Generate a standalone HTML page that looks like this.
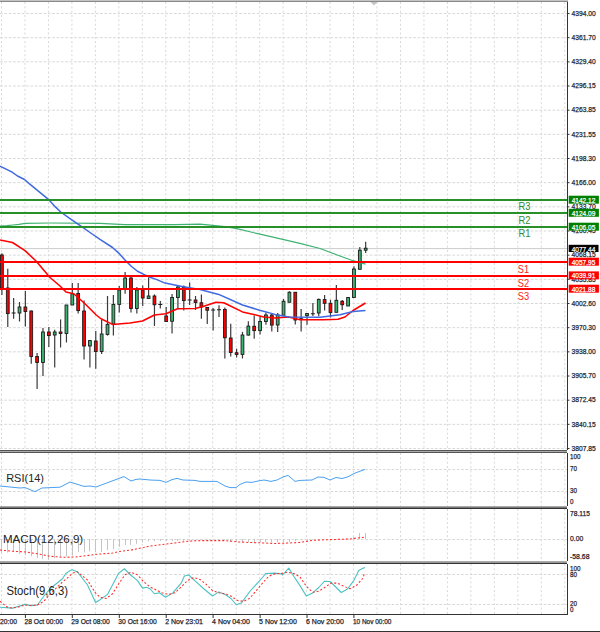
<!DOCTYPE html>
<html><head><meta charset="utf-8"><style>
html,body{margin:0;padding:0;background:#fff;width:600px;height:632px;overflow:hidden}
svg{display:block}
</style></head><body>
<svg width="600" height="632" viewBox="0 0 600 632">
<rect x="0" y="0" width="600" height="632" fill="#fff"/>
<line x1="0" y1="13.5" x2="567" y2="13.5" stroke="#d8d8d8" stroke-width="1" stroke-dasharray="2.7 1.65"/>
<line x1="0" y1="37.67" x2="567" y2="37.67" stroke="#d8d8d8" stroke-width="1" stroke-dasharray="2.7 1.65"/>
<line x1="0" y1="61.83" x2="567" y2="61.83" stroke="#d8d8d8" stroke-width="1" stroke-dasharray="2.7 1.65"/>
<line x1="0" y1="86.0" x2="567" y2="86.0" stroke="#d8d8d8" stroke-width="1" stroke-dasharray="2.7 1.65"/>
<line x1="0" y1="110.17" x2="567" y2="110.17" stroke="#d8d8d8" stroke-width="1" stroke-dasharray="2.7 1.65"/>
<line x1="0" y1="134.34" x2="567" y2="134.34" stroke="#d8d8d8" stroke-width="1" stroke-dasharray="2.7 1.65"/>
<line x1="0" y1="158.5" x2="567" y2="158.5" stroke="#d8d8d8" stroke-width="1" stroke-dasharray="2.7 1.65"/>
<line x1="0" y1="182.67" x2="567" y2="182.67" stroke="#d8d8d8" stroke-width="1" stroke-dasharray="2.7 1.65"/>
<line x1="0" y1="206.84" x2="567" y2="206.84" stroke="#d8d8d8" stroke-width="1" stroke-dasharray="2.7 1.65"/>
<line x1="0" y1="231.0" x2="567" y2="231.0" stroke="#d8d8d8" stroke-width="1" stroke-dasharray="2.7 1.65"/>
<line x1="0" y1="255.17" x2="567" y2="255.17" stroke="#d8d8d8" stroke-width="1" stroke-dasharray="2.7 1.65"/>
<line x1="0" y1="279.34" x2="567" y2="279.34" stroke="#d8d8d8" stroke-width="1" stroke-dasharray="2.7 1.65"/>
<line x1="0" y1="303.5" x2="567" y2="303.5" stroke="#d8d8d8" stroke-width="1" stroke-dasharray="2.7 1.65"/>
<line x1="0" y1="327.67" x2="567" y2="327.67" stroke="#d8d8d8" stroke-width="1" stroke-dasharray="2.7 1.65"/>
<line x1="0" y1="351.84" x2="567" y2="351.84" stroke="#d8d8d8" stroke-width="1" stroke-dasharray="2.7 1.65"/>
<line x1="0" y1="376.0" x2="567" y2="376.0" stroke="#d8d8d8" stroke-width="1" stroke-dasharray="2.7 1.65"/>
<line x1="0" y1="400.17" x2="567" y2="400.17" stroke="#d8d8d8" stroke-width="1" stroke-dasharray="2.7 1.65"/>
<line x1="0" y1="424.34" x2="567" y2="424.34" stroke="#d8d8d8" stroke-width="1" stroke-dasharray="2.7 1.65"/>
<line x1="0" y1="448.51" x2="567" y2="448.51" stroke="#d8d8d8" stroke-width="1" stroke-dasharray="2.7 1.65"/>
<line x1="1.5" y1="2" x2="1.5" y2="450" stroke="#d8d8d8" stroke-width="1" stroke-dasharray="2 2.35"/>
<line x1="1.5" y1="453" x2="1.5" y2="506" stroke="#d8d8d8" stroke-width="1" stroke-dasharray="2 2.35"/>
<line x1="1.5" y1="509" x2="1.5" y2="561" stroke="#d8d8d8" stroke-width="1" stroke-dasharray="2 2.35"/>
<line x1="1.5" y1="564" x2="1.5" y2="614" stroke="#d8d8d8" stroke-width="1" stroke-dasharray="2 2.35"/>
<line x1="24.97" y1="2" x2="24.97" y2="450" stroke="#d8d8d8" stroke-width="1" stroke-dasharray="2 2.35"/>
<line x1="24.97" y1="453" x2="24.97" y2="506" stroke="#d8d8d8" stroke-width="1" stroke-dasharray="2 2.35"/>
<line x1="24.97" y1="509" x2="24.97" y2="561" stroke="#d8d8d8" stroke-width="1" stroke-dasharray="2 2.35"/>
<line x1="24.97" y1="564" x2="24.97" y2="614" stroke="#d8d8d8" stroke-width="1" stroke-dasharray="2 2.35"/>
<line x1="48.44" y1="2" x2="48.44" y2="450" stroke="#d8d8d8" stroke-width="1" stroke-dasharray="2 2.35"/>
<line x1="48.44" y1="453" x2="48.44" y2="506" stroke="#d8d8d8" stroke-width="1" stroke-dasharray="2 2.35"/>
<line x1="48.44" y1="509" x2="48.44" y2="561" stroke="#d8d8d8" stroke-width="1" stroke-dasharray="2 2.35"/>
<line x1="48.44" y1="564" x2="48.44" y2="614" stroke="#d8d8d8" stroke-width="1" stroke-dasharray="2 2.35"/>
<line x1="71.91" y1="2" x2="71.91" y2="450" stroke="#d8d8d8" stroke-width="1" stroke-dasharray="2 2.35"/>
<line x1="71.91" y1="453" x2="71.91" y2="506" stroke="#d8d8d8" stroke-width="1" stroke-dasharray="2 2.35"/>
<line x1="71.91" y1="509" x2="71.91" y2="561" stroke="#d8d8d8" stroke-width="1" stroke-dasharray="2 2.35"/>
<line x1="71.91" y1="564" x2="71.91" y2="614" stroke="#d8d8d8" stroke-width="1" stroke-dasharray="2 2.35"/>
<line x1="95.38" y1="2" x2="95.38" y2="450" stroke="#d8d8d8" stroke-width="1" stroke-dasharray="2 2.35"/>
<line x1="95.38" y1="453" x2="95.38" y2="506" stroke="#d8d8d8" stroke-width="1" stroke-dasharray="2 2.35"/>
<line x1="95.38" y1="509" x2="95.38" y2="561" stroke="#d8d8d8" stroke-width="1" stroke-dasharray="2 2.35"/>
<line x1="95.38" y1="564" x2="95.38" y2="614" stroke="#d8d8d8" stroke-width="1" stroke-dasharray="2 2.35"/>
<line x1="118.85" y1="2" x2="118.85" y2="450" stroke="#d8d8d8" stroke-width="1" stroke-dasharray="2 2.35"/>
<line x1="118.85" y1="453" x2="118.85" y2="506" stroke="#d8d8d8" stroke-width="1" stroke-dasharray="2 2.35"/>
<line x1="118.85" y1="509" x2="118.85" y2="561" stroke="#d8d8d8" stroke-width="1" stroke-dasharray="2 2.35"/>
<line x1="118.85" y1="564" x2="118.85" y2="614" stroke="#d8d8d8" stroke-width="1" stroke-dasharray="2 2.35"/>
<line x1="142.32" y1="2" x2="142.32" y2="450" stroke="#d8d8d8" stroke-width="1" stroke-dasharray="2 2.35"/>
<line x1="142.32" y1="453" x2="142.32" y2="506" stroke="#d8d8d8" stroke-width="1" stroke-dasharray="2 2.35"/>
<line x1="142.32" y1="509" x2="142.32" y2="561" stroke="#d8d8d8" stroke-width="1" stroke-dasharray="2 2.35"/>
<line x1="142.32" y1="564" x2="142.32" y2="614" stroke="#d8d8d8" stroke-width="1" stroke-dasharray="2 2.35"/>
<line x1="165.79" y1="2" x2="165.79" y2="450" stroke="#d8d8d8" stroke-width="1" stroke-dasharray="2 2.35"/>
<line x1="165.79" y1="453" x2="165.79" y2="506" stroke="#d8d8d8" stroke-width="1" stroke-dasharray="2 2.35"/>
<line x1="165.79" y1="509" x2="165.79" y2="561" stroke="#d8d8d8" stroke-width="1" stroke-dasharray="2 2.35"/>
<line x1="165.79" y1="564" x2="165.79" y2="614" stroke="#d8d8d8" stroke-width="1" stroke-dasharray="2 2.35"/>
<line x1="189.26" y1="2" x2="189.26" y2="450" stroke="#d8d8d8" stroke-width="1" stroke-dasharray="2 2.35"/>
<line x1="189.26" y1="453" x2="189.26" y2="506" stroke="#d8d8d8" stroke-width="1" stroke-dasharray="2 2.35"/>
<line x1="189.26" y1="509" x2="189.26" y2="561" stroke="#d8d8d8" stroke-width="1" stroke-dasharray="2 2.35"/>
<line x1="189.26" y1="564" x2="189.26" y2="614" stroke="#d8d8d8" stroke-width="1" stroke-dasharray="2 2.35"/>
<line x1="212.73" y1="2" x2="212.73" y2="450" stroke="#d8d8d8" stroke-width="1" stroke-dasharray="2 2.35"/>
<line x1="212.73" y1="453" x2="212.73" y2="506" stroke="#d8d8d8" stroke-width="1" stroke-dasharray="2 2.35"/>
<line x1="212.73" y1="509" x2="212.73" y2="561" stroke="#d8d8d8" stroke-width="1" stroke-dasharray="2 2.35"/>
<line x1="212.73" y1="564" x2="212.73" y2="614" stroke="#d8d8d8" stroke-width="1" stroke-dasharray="2 2.35"/>
<line x1="236.2" y1="2" x2="236.2" y2="450" stroke="#d8d8d8" stroke-width="1" stroke-dasharray="2 2.35"/>
<line x1="236.2" y1="453" x2="236.2" y2="506" stroke="#d8d8d8" stroke-width="1" stroke-dasharray="2 2.35"/>
<line x1="236.2" y1="509" x2="236.2" y2="561" stroke="#d8d8d8" stroke-width="1" stroke-dasharray="2 2.35"/>
<line x1="236.2" y1="564" x2="236.2" y2="614" stroke="#d8d8d8" stroke-width="1" stroke-dasharray="2 2.35"/>
<line x1="259.66999999999996" y1="2" x2="259.66999999999996" y2="450" stroke="#d8d8d8" stroke-width="1" stroke-dasharray="2 2.35"/>
<line x1="259.66999999999996" y1="453" x2="259.66999999999996" y2="506" stroke="#d8d8d8" stroke-width="1" stroke-dasharray="2 2.35"/>
<line x1="259.66999999999996" y1="509" x2="259.66999999999996" y2="561" stroke="#d8d8d8" stroke-width="1" stroke-dasharray="2 2.35"/>
<line x1="259.66999999999996" y1="564" x2="259.66999999999996" y2="614" stroke="#d8d8d8" stroke-width="1" stroke-dasharray="2 2.35"/>
<line x1="283.14" y1="2" x2="283.14" y2="450" stroke="#d8d8d8" stroke-width="1" stroke-dasharray="2 2.35"/>
<line x1="283.14" y1="453" x2="283.14" y2="506" stroke="#d8d8d8" stroke-width="1" stroke-dasharray="2 2.35"/>
<line x1="283.14" y1="509" x2="283.14" y2="561" stroke="#d8d8d8" stroke-width="1" stroke-dasharray="2 2.35"/>
<line x1="283.14" y1="564" x2="283.14" y2="614" stroke="#d8d8d8" stroke-width="1" stroke-dasharray="2 2.35"/>
<line x1="306.61" y1="2" x2="306.61" y2="450" stroke="#d8d8d8" stroke-width="1" stroke-dasharray="2 2.35"/>
<line x1="306.61" y1="453" x2="306.61" y2="506" stroke="#d8d8d8" stroke-width="1" stroke-dasharray="2 2.35"/>
<line x1="306.61" y1="509" x2="306.61" y2="561" stroke="#d8d8d8" stroke-width="1" stroke-dasharray="2 2.35"/>
<line x1="306.61" y1="564" x2="306.61" y2="614" stroke="#d8d8d8" stroke-width="1" stroke-dasharray="2 2.35"/>
<line x1="330.08" y1="2" x2="330.08" y2="450" stroke="#d8d8d8" stroke-width="1" stroke-dasharray="2 2.35"/>
<line x1="330.08" y1="453" x2="330.08" y2="506" stroke="#d8d8d8" stroke-width="1" stroke-dasharray="2 2.35"/>
<line x1="330.08" y1="509" x2="330.08" y2="561" stroke="#d8d8d8" stroke-width="1" stroke-dasharray="2 2.35"/>
<line x1="330.08" y1="564" x2="330.08" y2="614" stroke="#d8d8d8" stroke-width="1" stroke-dasharray="2 2.35"/>
<line x1="353.54999999999995" y1="2" x2="353.54999999999995" y2="450" stroke="#d8d8d8" stroke-width="1" stroke-dasharray="2 2.35"/>
<line x1="353.54999999999995" y1="453" x2="353.54999999999995" y2="506" stroke="#d8d8d8" stroke-width="1" stroke-dasharray="2 2.35"/>
<line x1="353.54999999999995" y1="509" x2="353.54999999999995" y2="561" stroke="#d8d8d8" stroke-width="1" stroke-dasharray="2 2.35"/>
<line x1="353.54999999999995" y1="564" x2="353.54999999999995" y2="614" stroke="#d8d8d8" stroke-width="1" stroke-dasharray="2 2.35"/>
<line x1="377.02" y1="2" x2="377.02" y2="450" stroke="#d8d8d8" stroke-width="1" stroke-dasharray="2 2.35"/>
<line x1="377.02" y1="453" x2="377.02" y2="506" stroke="#d8d8d8" stroke-width="1" stroke-dasharray="2 2.35"/>
<line x1="377.02" y1="509" x2="377.02" y2="561" stroke="#d8d8d8" stroke-width="1" stroke-dasharray="2 2.35"/>
<line x1="377.02" y1="564" x2="377.02" y2="614" stroke="#d8d8d8" stroke-width="1" stroke-dasharray="2 2.35"/>
<line x1="400.49" y1="2" x2="400.49" y2="450" stroke="#d8d8d8" stroke-width="1" stroke-dasharray="2 2.35"/>
<line x1="400.49" y1="453" x2="400.49" y2="506" stroke="#d8d8d8" stroke-width="1" stroke-dasharray="2 2.35"/>
<line x1="400.49" y1="509" x2="400.49" y2="561" stroke="#d8d8d8" stroke-width="1" stroke-dasharray="2 2.35"/>
<line x1="400.49" y1="564" x2="400.49" y2="614" stroke="#d8d8d8" stroke-width="1" stroke-dasharray="2 2.35"/>
<line x1="423.96" y1="2" x2="423.96" y2="450" stroke="#d8d8d8" stroke-width="1" stroke-dasharray="2 2.35"/>
<line x1="423.96" y1="453" x2="423.96" y2="506" stroke="#d8d8d8" stroke-width="1" stroke-dasharray="2 2.35"/>
<line x1="423.96" y1="509" x2="423.96" y2="561" stroke="#d8d8d8" stroke-width="1" stroke-dasharray="2 2.35"/>
<line x1="423.96" y1="564" x2="423.96" y2="614" stroke="#d8d8d8" stroke-width="1" stroke-dasharray="2 2.35"/>
<line x1="447.42999999999995" y1="2" x2="447.42999999999995" y2="450" stroke="#d8d8d8" stroke-width="1" stroke-dasharray="2 2.35"/>
<line x1="447.42999999999995" y1="453" x2="447.42999999999995" y2="506" stroke="#d8d8d8" stroke-width="1" stroke-dasharray="2 2.35"/>
<line x1="447.42999999999995" y1="509" x2="447.42999999999995" y2="561" stroke="#d8d8d8" stroke-width="1" stroke-dasharray="2 2.35"/>
<line x1="447.42999999999995" y1="564" x2="447.42999999999995" y2="614" stroke="#d8d8d8" stroke-width="1" stroke-dasharray="2 2.35"/>
<line x1="470.9" y1="2" x2="470.9" y2="450" stroke="#d8d8d8" stroke-width="1" stroke-dasharray="2 2.35"/>
<line x1="470.9" y1="453" x2="470.9" y2="506" stroke="#d8d8d8" stroke-width="1" stroke-dasharray="2 2.35"/>
<line x1="470.9" y1="509" x2="470.9" y2="561" stroke="#d8d8d8" stroke-width="1" stroke-dasharray="2 2.35"/>
<line x1="470.9" y1="564" x2="470.9" y2="614" stroke="#d8d8d8" stroke-width="1" stroke-dasharray="2 2.35"/>
<line x1="494.37" y1="2" x2="494.37" y2="450" stroke="#d8d8d8" stroke-width="1" stroke-dasharray="2 2.35"/>
<line x1="494.37" y1="453" x2="494.37" y2="506" stroke="#d8d8d8" stroke-width="1" stroke-dasharray="2 2.35"/>
<line x1="494.37" y1="509" x2="494.37" y2="561" stroke="#d8d8d8" stroke-width="1" stroke-dasharray="2 2.35"/>
<line x1="494.37" y1="564" x2="494.37" y2="614" stroke="#d8d8d8" stroke-width="1" stroke-dasharray="2 2.35"/>
<line x1="517.8399999999999" y1="2" x2="517.8399999999999" y2="450" stroke="#d8d8d8" stroke-width="1" stroke-dasharray="2 2.35"/>
<line x1="517.8399999999999" y1="453" x2="517.8399999999999" y2="506" stroke="#d8d8d8" stroke-width="1" stroke-dasharray="2 2.35"/>
<line x1="517.8399999999999" y1="509" x2="517.8399999999999" y2="561" stroke="#d8d8d8" stroke-width="1" stroke-dasharray="2 2.35"/>
<line x1="517.8399999999999" y1="564" x2="517.8399999999999" y2="614" stroke="#d8d8d8" stroke-width="1" stroke-dasharray="2 2.35"/>
<line x1="541.31" y1="2" x2="541.31" y2="450" stroke="#d8d8d8" stroke-width="1" stroke-dasharray="2 2.35"/>
<line x1="541.31" y1="453" x2="541.31" y2="506" stroke="#d8d8d8" stroke-width="1" stroke-dasharray="2 2.35"/>
<line x1="541.31" y1="509" x2="541.31" y2="561" stroke="#d8d8d8" stroke-width="1" stroke-dasharray="2 2.35"/>
<line x1="541.31" y1="564" x2="541.31" y2="614" stroke="#d8d8d8" stroke-width="1" stroke-dasharray="2 2.35"/>
<line x1="564.78" y1="2" x2="564.78" y2="450" stroke="#d8d8d8" stroke-width="1" stroke-dasharray="2 2.35"/>
<line x1="564.78" y1="453" x2="564.78" y2="506" stroke="#d8d8d8" stroke-width="1" stroke-dasharray="2 2.35"/>
<line x1="564.78" y1="509" x2="564.78" y2="561" stroke="#d8d8d8" stroke-width="1" stroke-dasharray="2 2.35"/>
<line x1="564.78" y1="564" x2="564.78" y2="614" stroke="#d8d8d8" stroke-width="1" stroke-dasharray="2 2.35"/>
<line x1="0" y1="469.5" x2="567" y2="469.5" stroke="#d8d8d8" stroke-width="1" stroke-dasharray="2.7 1.65"/>
<line x1="0" y1="491.5" x2="567" y2="491.5" stroke="#d8d8d8" stroke-width="1" stroke-dasharray="2.7 1.65"/>
<line x1="0" y1="539.5" x2="567" y2="539.5" stroke="#d8d8d8" stroke-width="1" stroke-dasharray="2.7 1.65"/>
<line x1="0" y1="574.5" x2="567" y2="574.5" stroke="#d8d8d8" stroke-width="1" stroke-dasharray="2.7 1.65"/>
<line x1="0" y1="604.5" x2="567" y2="604.5" stroke="#d8d8d8" stroke-width="1" stroke-dasharray="2.7 1.65"/>
<line x1="0" y1="248.6" x2="567" y2="248.6" stroke="#cccccc" stroke-width="1"/>
<line x1="1.90" y1="253.3" x2="1.90" y2="295" stroke="#3a3a3a" stroke-width="1.2"/>
<rect x="0.50" y="255" width="2.8" height="33.30" fill="#ff0000" stroke="#1a1a1a" stroke-width="0.9"/>
<line x1="7.77" y1="268.75" x2="7.77" y2="327" stroke="#3a3a3a" stroke-width="1.2"/>
<rect x="6.37" y="288" width="2.8" height="25.60" fill="#ff0000" stroke="#1a1a1a" stroke-width="0.9"/>
<line x1="13.63" y1="298" x2="13.63" y2="318.75" stroke="#3a3a3a" stroke-width="1.2"/>
<line x1="11.63" y1="313" x2="15.63" y2="313" stroke="#1a1a1a" stroke-width="1"/>
<line x1="19.50" y1="302" x2="19.50" y2="321.5" stroke="#3a3a3a" stroke-width="1.2"/>
<rect x="18.10" y="307" width="2.8" height="6.00" fill="#3cb371" stroke="#1a1a1a" stroke-width="0.9"/>
<line x1="25.37" y1="291" x2="25.37" y2="326.5" stroke="#3a3a3a" stroke-width="1.2"/>
<rect x="23.97" y="307" width="2.8" height="4.50" fill="#ff0000" stroke="#1a1a1a" stroke-width="0.9"/>
<line x1="31.24" y1="310.6" x2="31.24" y2="363.75" stroke="#3a3a3a" stroke-width="1.2"/>
<rect x="29.84" y="311" width="2.8" height="45.50" fill="#ff0000" stroke="#1a1a1a" stroke-width="0.9"/>
<line x1="37.10" y1="353" x2="37.10" y2="389" stroke="#3a3a3a" stroke-width="1.2"/>
<rect x="35.70" y="356.5" width="2.8" height="6.00" fill="#ff0000" stroke="#1a1a1a" stroke-width="0.9"/>
<line x1="42.97" y1="328" x2="42.97" y2="376" stroke="#3a3a3a" stroke-width="1.2"/>
<rect x="41.57" y="332" width="2.8" height="30.50" fill="#3cb371" stroke="#1a1a1a" stroke-width="0.9"/>
<line x1="48.84" y1="327" x2="48.84" y2="347" stroke="#3a3a3a" stroke-width="1.2"/>
<rect x="47.44" y="332" width="2.8" height="3.60" fill="#ff0000" stroke="#1a1a1a" stroke-width="0.9"/>
<line x1="54.71" y1="329.75" x2="54.71" y2="367.5" stroke="#3a3a3a" stroke-width="1.2"/>
<rect x="53.31" y="332" width="2.8" height="3.00" fill="#3cb371" stroke="#1a1a1a" stroke-width="0.9"/>
<line x1="60.57" y1="319.4" x2="60.57" y2="347.5" stroke="#3a3a3a" stroke-width="1.2"/>
<rect x="59.17" y="332" width="2.8" height="1.50" fill="#ff0000" stroke="#1a1a1a" stroke-width="0.9"/>
<line x1="66.44" y1="305" x2="66.44" y2="342.5" stroke="#3a3a3a" stroke-width="1.2"/>
<rect x="65.04" y="305" width="2.8" height="28.50" fill="#3cb371" stroke="#1a1a1a" stroke-width="0.9"/>
<line x1="72.31" y1="283" x2="72.31" y2="305" stroke="#3a3a3a" stroke-width="1.2"/>
<rect x="70.91" y="293.75" width="2.8" height="11.25" fill="#3cb371" stroke="#1a1a1a" stroke-width="0.9"/>
<line x1="78.18" y1="283" x2="78.18" y2="313.5" stroke="#3a3a3a" stroke-width="1.2"/>
<rect x="76.78" y="293.5" width="2.8" height="17.10" fill="#ff0000" stroke="#1a1a1a" stroke-width="0.9"/>
<line x1="84.05" y1="300.6" x2="84.05" y2="359.4" stroke="#3a3a3a" stroke-width="1.2"/>
<rect x="82.64" y="311" width="2.8" height="35.00" fill="#ff0000" stroke="#1a1a1a" stroke-width="0.9"/>
<line x1="89.91" y1="340" x2="89.91" y2="367.5" stroke="#3a3a3a" stroke-width="1.2"/>
<rect x="88.51" y="340.6" width="2.8" height="5.40" fill="#3cb371" stroke="#1a1a1a" stroke-width="0.9"/>
<line x1="95.78" y1="331" x2="95.78" y2="368.75" stroke="#3a3a3a" stroke-width="1.2"/>
<rect x="94.38" y="341" width="2.8" height="10.50" fill="#ff0000" stroke="#1a1a1a" stroke-width="0.9"/>
<line x1="101.65" y1="320" x2="101.65" y2="354" stroke="#3a3a3a" stroke-width="1.2"/>
<rect x="100.25" y="334" width="2.8" height="17.50" fill="#3cb371" stroke="#1a1a1a" stroke-width="0.9"/>
<line x1="107.52" y1="296" x2="107.52" y2="335.6" stroke="#3a3a3a" stroke-width="1.2"/>
<rect x="106.11" y="324.4" width="2.8" height="10.00" fill="#3cb371" stroke="#1a1a1a" stroke-width="0.9"/>
<line x1="113.38" y1="295" x2="113.38" y2="335.6" stroke="#3a3a3a" stroke-width="1.2"/>
<rect x="111.98" y="304.4" width="2.8" height="19.60" fill="#3cb371" stroke="#1a1a1a" stroke-width="0.9"/>
<line x1="119.25" y1="286" x2="119.25" y2="312.5" stroke="#3a3a3a" stroke-width="1.2"/>
<rect x="117.85" y="290" width="2.8" height="14.40" fill="#3cb371" stroke="#1a1a1a" stroke-width="0.9"/>
<line x1="125.12" y1="272" x2="125.12" y2="293.75" stroke="#3a3a3a" stroke-width="1.2"/>
<rect x="123.72" y="278" width="2.8" height="10.50" fill="#3cb371" stroke="#1a1a1a" stroke-width="0.9"/>
<line x1="130.98" y1="277" x2="130.98" y2="312.5" stroke="#3a3a3a" stroke-width="1.2"/>
<rect x="129.58" y="278" width="2.8" height="30.50" fill="#ff0000" stroke="#1a1a1a" stroke-width="0.9"/>
<line x1="136.85" y1="287" x2="136.85" y2="313.6" stroke="#3a3a3a" stroke-width="1.2"/>
<rect x="135.45" y="290" width="2.8" height="18.50" fill="#3cb371" stroke="#1a1a1a" stroke-width="0.9"/>
<line x1="142.72" y1="285.6" x2="142.72" y2="306" stroke="#3a3a3a" stroke-width="1.2"/>
<rect x="141.32" y="290" width="2.8" height="8.00" fill="#ff0000" stroke="#1a1a1a" stroke-width="0.9"/>
<line x1="148.59" y1="277.5" x2="148.59" y2="298.75" stroke="#3a3a3a" stroke-width="1.2"/>
<rect x="147.19" y="296" width="2.8" height="2.50" fill="#3cb371" stroke="#1a1a1a" stroke-width="0.9"/>
<line x1="154.46" y1="294.4" x2="154.46" y2="326" stroke="#3a3a3a" stroke-width="1.2"/>
<rect x="153.06" y="296" width="2.8" height="8.75" fill="#ff0000" stroke="#1a1a1a" stroke-width="0.9"/>
<line x1="160.32" y1="301" x2="160.32" y2="308.5" stroke="#3a3a3a" stroke-width="1.2"/>
<line x1="158.32" y1="304.5" x2="162.32" y2="304.5" stroke="#1a1a1a" stroke-width="1"/>
<line x1="166.19" y1="307" x2="166.19" y2="322" stroke="#3a3a3a" stroke-width="1.2"/>
<rect x="164.79" y="316" width="2.8" height="5.50" fill="#ff0000" stroke="#1a1a1a" stroke-width="0.9"/>
<line x1="172.06" y1="294" x2="172.06" y2="333.5" stroke="#3a3a3a" stroke-width="1.2"/>
<rect x="170.66" y="297.5" width="2.8" height="23.75" fill="#3cb371" stroke="#1a1a1a" stroke-width="0.9"/>
<line x1="177.92" y1="286" x2="177.92" y2="308" stroke="#3a3a3a" stroke-width="1.2"/>
<rect x="176.52" y="287" width="2.8" height="10.50" fill="#3cb371" stroke="#1a1a1a" stroke-width="0.9"/>
<line x1="183.79" y1="285.6" x2="183.79" y2="310.6" stroke="#3a3a3a" stroke-width="1.2"/>
<rect x="182.39" y="287" width="2.8" height="13.60" fill="#ff0000" stroke="#1a1a1a" stroke-width="0.9"/>
<line x1="189.66" y1="282.5" x2="189.66" y2="305" stroke="#3a3a3a" stroke-width="1.2"/>
<line x1="187.66" y1="300" x2="191.66" y2="300" stroke="#1a1a1a" stroke-width="1"/>
<line x1="195.53" y1="296" x2="195.53" y2="310" stroke="#3a3a3a" stroke-width="1.2"/>
<rect x="194.13" y="300" width="2.8" height="2.50" fill="#ff0000" stroke="#1a1a1a" stroke-width="0.9"/>
<line x1="201.40" y1="294.4" x2="201.40" y2="318.75" stroke="#3a3a3a" stroke-width="1.2"/>
<rect x="200.00" y="302.75" width="2.8" height="4.25" fill="#ff0000" stroke="#1a1a1a" stroke-width="0.9"/>
<line x1="207.26" y1="307" x2="207.26" y2="324" stroke="#3a3a3a" stroke-width="1.2"/>
<rect x="205.86" y="307.5" width="2.8" height="2.75" fill="#ff0000" stroke="#1a1a1a" stroke-width="0.9"/>
<line x1="213.13" y1="308" x2="213.13" y2="330.6" stroke="#3a3a3a" stroke-width="1.2"/>
<line x1="211.13" y1="310" x2="215.13" y2="310" stroke="#1a1a1a" stroke-width="1"/>
<line x1="219.00" y1="305.25" x2="219.00" y2="316.9" stroke="#3a3a3a" stroke-width="1.2"/>
<line x1="217.00" y1="309.75" x2="221.00" y2="309.75" stroke="#1a1a1a" stroke-width="1"/>
<line x1="224.86" y1="307.5" x2="224.86" y2="358.5" stroke="#3a3a3a" stroke-width="1.2"/>
<rect x="223.46" y="309.4" width="2.8" height="28.35" fill="#ff0000" stroke="#1a1a1a" stroke-width="0.9"/>
<line x1="230.73" y1="323.75" x2="230.73" y2="356.5" stroke="#3a3a3a" stroke-width="1.2"/>
<rect x="229.33" y="338" width="2.8" height="14.50" fill="#ff0000" stroke="#1a1a1a" stroke-width="0.9"/>
<line x1="236.60" y1="348.75" x2="236.60" y2="357.5" stroke="#3a3a3a" stroke-width="1.2"/>
<rect x="235.20" y="352.75" width="2.8" height="1.65" fill="#ff0000" stroke="#1a1a1a" stroke-width="0.9"/>
<line x1="242.47" y1="331.9" x2="242.47" y2="358.5" stroke="#3a3a3a" stroke-width="1.2"/>
<rect x="241.07" y="335" width="2.8" height="19.40" fill="#3cb371" stroke="#1a1a1a" stroke-width="0.9"/>
<line x1="248.34" y1="321.25" x2="248.34" y2="335.6" stroke="#3a3a3a" stroke-width="1.2"/>
<rect x="246.94" y="326.1" width="2.8" height="9.00" fill="#3cb371" stroke="#1a1a1a" stroke-width="0.9"/>
<line x1="254.20" y1="315.6" x2="254.20" y2="338.75" stroke="#3a3a3a" stroke-width="1.2"/>
<rect x="252.80" y="326.25" width="2.8" height="4.35" fill="#ff0000" stroke="#1a1a1a" stroke-width="0.9"/>
<line x1="260.07" y1="316.25" x2="260.07" y2="334.4" stroke="#3a3a3a" stroke-width="1.2"/>
<rect x="258.67" y="321.5" width="2.8" height="9.10" fill="#3cb371" stroke="#1a1a1a" stroke-width="0.9"/>
<line x1="265.94" y1="312.5" x2="265.94" y2="324.75" stroke="#3a3a3a" stroke-width="1.2"/>
<rect x="264.54" y="315" width="2.8" height="6.50" fill="#3cb371" stroke="#1a1a1a" stroke-width="0.9"/>
<line x1="271.80" y1="313.75" x2="271.80" y2="331.4" stroke="#3a3a3a" stroke-width="1.2"/>
<rect x="270.40" y="315" width="2.8" height="10.10" fill="#ff0000" stroke="#1a1a1a" stroke-width="0.9"/>
<line x1="277.67" y1="313" x2="277.67" y2="331.9" stroke="#3a3a3a" stroke-width="1.2"/>
<rect x="276.27" y="315" width="2.8" height="10.00" fill="#3cb371" stroke="#1a1a1a" stroke-width="0.9"/>
<line x1="283.54" y1="299" x2="283.54" y2="315.25" stroke="#3a3a3a" stroke-width="1.2"/>
<rect x="282.14" y="301.25" width="2.8" height="14.00" fill="#3cb371" stroke="#1a1a1a" stroke-width="0.9"/>
<line x1="289.41" y1="291.25" x2="289.41" y2="302.25" stroke="#3a3a3a" stroke-width="1.2"/>
<rect x="288.01" y="292.25" width="2.8" height="10.00" fill="#3cb371" stroke="#1a1a1a" stroke-width="0.9"/>
<line x1="295.27" y1="292" x2="295.27" y2="324.4" stroke="#3a3a3a" stroke-width="1.2"/>
<rect x="293.88" y="292.25" width="2.8" height="27.75" fill="#ff0000" stroke="#1a1a1a" stroke-width="0.9"/>
<line x1="301.14" y1="309" x2="301.14" y2="331.5" stroke="#3a3a3a" stroke-width="1.2"/>
<line x1="299.14" y1="318.75" x2="303.14" y2="318.75" stroke="#1a1a1a" stroke-width="1"/>
<line x1="307.01" y1="313" x2="307.01" y2="324.75" stroke="#3a3a3a" stroke-width="1.2"/>
<rect x="305.61" y="313.5" width="2.8" height="2.10" fill="#3cb371" stroke="#1a1a1a" stroke-width="0.9"/>
<line x1="312.88" y1="303" x2="312.88" y2="316" stroke="#3a3a3a" stroke-width="1.2"/>
<line x1="310.88" y1="313.75" x2="314.88" y2="313.75" stroke="#1a1a1a" stroke-width="1"/>
<line x1="318.74" y1="298.5" x2="318.74" y2="316.25" stroke="#3a3a3a" stroke-width="1.2"/>
<rect x="317.34" y="299.4" width="2.8" height="13.60" fill="#3cb371" stroke="#1a1a1a" stroke-width="0.9"/>
<line x1="324.61" y1="295" x2="324.61" y2="310.6" stroke="#3a3a3a" stroke-width="1.2"/>
<rect x="323.21" y="299.6" width="2.8" height="3.70" fill="#ff0000" stroke="#1a1a1a" stroke-width="0.9"/>
<line x1="330.48" y1="299.75" x2="330.48" y2="317.5" stroke="#3a3a3a" stroke-width="1.2"/>
<rect x="329.08" y="303.3" width="2.8" height="9.20" fill="#ff0000" stroke="#1a1a1a" stroke-width="0.9"/>
<line x1="336.35" y1="285" x2="336.35" y2="312.5" stroke="#3a3a3a" stroke-width="1.2"/>
<rect x="334.95" y="300.3" width="2.8" height="12.00" fill="#3cb371" stroke="#1a1a1a" stroke-width="0.9"/>
<line x1="342.21" y1="300" x2="342.21" y2="310" stroke="#3a3a3a" stroke-width="1.2"/>
<rect x="340.81" y="301.25" width="2.8" height="3.50" fill="#ff0000" stroke="#1a1a1a" stroke-width="0.9"/>
<line x1="348.08" y1="297" x2="348.08" y2="306" stroke="#3a3a3a" stroke-width="1.2"/>
<rect x="346.68" y="297.5" width="2.8" height="8.50" fill="#3cb371" stroke="#1a1a1a" stroke-width="0.9"/>
<line x1="353.95" y1="266.3" x2="353.95" y2="297.5" stroke="#3a3a3a" stroke-width="1.2"/>
<rect x="352.55" y="269" width="2.8" height="28.50" fill="#3cb371" stroke="#1a1a1a" stroke-width="0.9"/>
<line x1="359.82" y1="247" x2="359.82" y2="269.3" stroke="#3a3a3a" stroke-width="1.2"/>
<rect x="358.42" y="250.2" width="2.8" height="19.10" fill="#3cb371" stroke="#1a1a1a" stroke-width="0.9"/>
<line x1="365.68" y1="241.7" x2="365.68" y2="253" stroke="#3a3a3a" stroke-width="1.2"/>
<rect x="364.28" y="248.2" width="2.8" height="2.00" fill="#3cb371" stroke="#1a1a1a" stroke-width="0.9"/>
<polyline points="0.00,226.00 7.00,225.60 13.00,225.00 19.00,224.30 25.00,223.30 50.00,223.00 100.00,223.30 125.00,224.70 175.00,224.70 200.00,224.20 225.00,226.70 237.00,228.70 260.00,234.20 300.00,243.30 320.00,248.50 340.00,256.00 353.00,260.70 365.50,264.20" fill="none" stroke="#3cb371" stroke-width="1.2" stroke-linejoin="round" opacity="1"/>
<polyline points="0.00,240.00 12.50,242.50 25.00,250.60 36.00,261.00 50.00,277.50 60.00,286.00 66.00,292.00 73.75,293.75 85.00,303.75 96.25,315.00 101.00,318.75 112.50,324.40 130.00,323.00 142.50,321.00 154.40,315.00 166.00,313.75 177.50,308.75 195.00,308.50 203.00,306.50 216.00,302.25 223.75,302.75 242.50,311.90 253.75,314.40 263.75,316.90 275.00,318.00 288.75,316.90 300.00,319.75 323.75,319.75 338.00,319.20 345.00,317.00 353.00,310.50 365.50,303.00" fill="none" stroke="#ff0000" stroke-width="1.55" stroke-linejoin="round" opacity="1"/>
<polyline points="0.00,166.10 11.70,171.90 17.50,176.00 24.50,179.50 29.20,183.60 35.00,188.30 42.00,194.10 49.00,199.90 55.40,206.90 60.70,212.00 70.00,218.60 81.70,226.70 90.00,232.50 100.00,239.40 112.50,247.50 118.75,253.10 125.00,260.00 131.25,266.25 137.50,271.25 143.75,274.40 150.00,277.25 156.25,279.40 165.00,283.10 183.30,286.70 200.00,289.50 218.75,294.40 242.50,305.00 258.75,310.00 275.00,314.40 288.75,316.90 320.00,317.20 340.00,314.80 353.00,311.50 365.50,310.50" fill="none" stroke="#4169e1" stroke-width="1.5" stroke-linejoin="round" opacity="1"/>
<line x1="0" y1="200" x2="567" y2="200" stroke="#289028" stroke-width="2"/>
<line x1="0" y1="213" x2="567" y2="213" stroke="#289028" stroke-width="2"/>
<line x1="0" y1="227" x2="567" y2="227" stroke="#289028" stroke-width="2"/>
<line x1="0" y1="262" x2="567" y2="262" stroke="#ff0000" stroke-width="2"/>
<line x1="0" y1="276" x2="567" y2="276" stroke="#ff0000" stroke-width="2"/>
<line x1="0" y1="289" x2="567" y2="289" stroke="#ff0000" stroke-width="2"/>
<text x="518.5" y="209.75" font-family='"Liberation Sans", sans-serif' font-size="10.2" fill="#2e8b2e" text-anchor="start" font-weight="normal" textLength="12" lengthAdjust="spacingAndGlyphs" >R3</text>
<text x="518.5" y="223.75" font-family='"Liberation Sans", sans-serif' font-size="10.2" fill="#2e8b2e" text-anchor="start" font-weight="normal" textLength="12" lengthAdjust="spacingAndGlyphs" >R2</text>
<text x="518.5" y="236.5" font-family='"Liberation Sans", sans-serif' font-size="10.2" fill="#2e8b2e" text-anchor="start" font-weight="normal" textLength="12" lengthAdjust="spacingAndGlyphs" >R1</text>
<text x="517.75" y="272.75" font-family='"Liberation Sans", sans-serif' font-size="10.2" fill="#ff2020" text-anchor="start" font-weight="normal" textLength="11.3" lengthAdjust="spacingAndGlyphs" >S1</text>
<text x="517.75" y="286.9" font-family='"Liberation Sans", sans-serif' font-size="10.2" fill="#ff2020" text-anchor="start" font-weight="normal" textLength="11.3" lengthAdjust="spacingAndGlyphs" >S2</text>
<text x="517.75" y="300.25" font-family='"Liberation Sans", sans-serif' font-size="10.2" fill="#ff2020" text-anchor="start" font-weight="normal" textLength="11.3" lengthAdjust="spacingAndGlyphs" >S3</text>
<polygon points="370.5,2 377.5,2 374,5.5" fill="#c4c4c4"/>
<polyline points="0.00,486.00 20.00,488.00 25.00,487.60 35.00,491.60 42.00,488.00 60.00,487.20 70.00,482.00 84.00,486.40 90.00,486.00 96.00,487.00 104.00,484.00 120.00,478.00 124.00,476.60 131.00,481.00 136.00,479.40 140.00,479.00 150.00,480.00 160.00,480.40 166.00,482.40 172.00,479.60 177.00,478.40 183.00,480.00 195.00,480.40 200.00,481.40 217.00,481.40 225.00,486.00 230.00,487.60 236.00,487.60 240.00,484.40 246.00,482.00 252.00,482.40 258.00,481.00 264.00,480.00 271.00,481.40 277.00,480.00 283.00,477.00 288.00,475.40 295.00,481.40 300.00,480.40 312.00,480.00 318.00,477.00 324.00,477.40 330.00,480.00 336.00,477.50 342.00,478.50 348.00,476.80 354.00,473.50 360.00,471.20 365.00,469.50" fill="none" stroke="#4aa0f0" stroke-width="1.0" stroke-linejoin="round" opacity="1"/>
<text x="6.2" y="481.6" font-family='"Liberation Sans", sans-serif' font-size="11.2" fill="#222" text-anchor="start" font-weight="normal" textLength="37.8" lengthAdjust="spacingAndGlyphs" >RSI(14)</text>
<line x1="1.50" y1="539" x2="1.50" y2="552.89" stroke="#c4c4c4" stroke-width="1"/>
<line x1="7.50" y1="539" x2="7.50" y2="552.44" stroke="#c4c4c4" stroke-width="1"/>
<line x1="13.50" y1="539" x2="13.50" y2="552.00" stroke="#c4c4c4" stroke-width="1"/>
<line x1="19.50" y1="539" x2="19.50" y2="554.02" stroke="#c4c4c4" stroke-width="1"/>
<line x1="25.50" y1="539" x2="25.50" y2="555.08" stroke="#c4c4c4" stroke-width="1"/>
<line x1="31.50" y1="539" x2="31.50" y2="556.17" stroke="#c4c4c4" stroke-width="1"/>
<line x1="37.50" y1="539" x2="37.50" y2="558.08" stroke="#c4c4c4" stroke-width="1"/>
<line x1="42.50" y1="539" x2="42.50" y2="558.92" stroke="#c4c4c4" stroke-width="1"/>
<line x1="48.50" y1="539" x2="48.50" y2="559.92" stroke="#c4c4c4" stroke-width="1"/>
<line x1="54.50" y1="539" x2="54.50" y2="558.17" stroke="#c4c4c4" stroke-width="1"/>
<line x1="60.50" y1="539" x2="60.50" y2="557.00" stroke="#c4c4c4" stroke-width="1"/>
<line x1="66.50" y1="539" x2="66.50" y2="556.50" stroke="#c4c4c4" stroke-width="1"/>
<line x1="72.50" y1="539" x2="72.50" y2="555.64" stroke="#c4c4c4" stroke-width="1"/>
<line x1="78.50" y1="539" x2="78.50" y2="552.08" stroke="#c4c4c4" stroke-width="1"/>
<line x1="84.50" y1="539" x2="84.50" y2="552.34" stroke="#c4c4c4" stroke-width="1"/>
<line x1="89.50" y1="539" x2="89.50" y2="551.30" stroke="#c4c4c4" stroke-width="1"/>
<line x1="95.50" y1="539" x2="95.50" y2="551.99" stroke="#c4c4c4" stroke-width="1"/>
<line x1="101.50" y1="539" x2="101.50" y2="552.00" stroke="#c4c4c4" stroke-width="1"/>
<line x1="107.50" y1="539" x2="107.50" y2="549.97" stroke="#c4c4c4" stroke-width="1"/>
<line x1="113.50" y1="539" x2="113.50" y2="549.21" stroke="#c4c4c4" stroke-width="1"/>
<line x1="119.50" y1="539" x2="119.50" y2="546.96" stroke="#c4c4c4" stroke-width="1"/>
<line x1="125.50" y1="539" x2="125.50" y2="544.98" stroke="#c4c4c4" stroke-width="1"/>
<line x1="130.50" y1="539" x2="130.50" y2="544.75" stroke="#c4c4c4" stroke-width="1"/>
<line x1="136.50" y1="539" x2="136.50" y2="543.81" stroke="#c4c4c4" stroke-width="1"/>
<line x1="142.50" y1="539" x2="142.50" y2="542.50" stroke="#c4c4c4" stroke-width="1"/>
<line x1="148.50" y1="539" x2="148.50" y2="541.30" stroke="#c4c4c4" stroke-width="1"/>
<line x1="154.50" y1="539" x2="154.50" y2="541.12" stroke="#c4c4c4" stroke-width="1"/>
<line x1="160.50" y1="539" x2="160.50" y2="541.00" stroke="#c4c4c4" stroke-width="1"/>
<line x1="166.50" y1="539" x2="166.50" y2="540.95" stroke="#c4c4c4" stroke-width="1"/>
<line x1="172.50" y1="539" x2="172.50" y2="540.91" stroke="#c4c4c4" stroke-width="1"/>
<line x1="177.50" y1="539" x2="177.50" y2="540.87" stroke="#c4c4c4" stroke-width="1"/>
<line x1="183.50" y1="539" x2="183.50" y2="540.83" stroke="#c4c4c4" stroke-width="1"/>
<line x1="189.50" y1="539" x2="189.50" y2="540.33" stroke="#c4c4c4" stroke-width="1"/>
<line x1="195.50" y1="539" x2="195.50" y2="539.30" stroke="#c4c4c4" stroke-width="1"/>
<line x1="201.50" y1="539" x2="201.50" y2="539.34" stroke="#c4c4c4" stroke-width="1"/>
<line x1="207.50" y1="539" x2="207.50" y2="539.38" stroke="#c4c4c4" stroke-width="1"/>
<line x1="213.50" y1="539" x2="213.50" y2="539.42" stroke="#c4c4c4" stroke-width="1"/>
<line x1="218.50" y1="539" x2="218.50" y2="539.46" stroke="#c4c4c4" stroke-width="1"/>
<line x1="224.50" y1="539" x2="224.50" y2="539.50" stroke="#c4c4c4" stroke-width="1"/>
<line x1="230.50" y1="539" x2="230.50" y2="542.00" stroke="#c4c4c4" stroke-width="1"/>
<line x1="236.50" y1="539" x2="236.50" y2="542.03" stroke="#c4c4c4" stroke-width="1"/>
<line x1="242.50" y1="539" x2="242.50" y2="542.06" stroke="#c4c4c4" stroke-width="1"/>
<line x1="248.50" y1="539" x2="248.50" y2="542.09" stroke="#c4c4c4" stroke-width="1"/>
<line x1="254.50" y1="539" x2="254.50" y2="542.12" stroke="#c4c4c4" stroke-width="1"/>
<line x1="260.50" y1="539" x2="260.50" y2="542.15" stroke="#c4c4c4" stroke-width="1"/>
<line x1="265.50" y1="539" x2="265.50" y2="542.18" stroke="#c4c4c4" stroke-width="1"/>
<line x1="271.50" y1="539" x2="271.50" y2="542.21" stroke="#c4c4c4" stroke-width="1"/>
<line x1="277.50" y1="539" x2="277.50" y2="542.24" stroke="#c4c4c4" stroke-width="1"/>
<line x1="283.50" y1="539" x2="283.50" y2="542.27" stroke="#c4c4c4" stroke-width="1"/>
<line x1="289.50" y1="539" x2="289.50" y2="542.30" stroke="#c4c4c4" stroke-width="1"/>
<line x1="295.50" y1="539" x2="295.50" y2="541.03" stroke="#c4c4c4" stroke-width="1"/>
<line x1="301.50" y1="539" x2="301.50" y2="539.97" stroke="#c4c4c4" stroke-width="1"/>
<line x1="307.50" y1="539" x2="307.50" y2="539.85" stroke="#c4c4c4" stroke-width="1"/>
<line x1="312.50" y1="539" x2="312.50" y2="539.75" stroke="#c4c4c4" stroke-width="1"/>
<line x1="318.50" y1="539" x2="318.50" y2="539.63" stroke="#c4c4c4" stroke-width="1"/>
<line x1="324.50" y1="539" x2="324.50" y2="539.51" stroke="#c4c4c4" stroke-width="1"/>
<line x1="330.50" y1="539" x2="330.50" y2="539.39" stroke="#c4c4c4" stroke-width="1"/>
<line x1="336.50" y1="539" x2="336.50" y2="539.27" stroke="#c4c4c4" stroke-width="1"/>
<line x1="342.50" y1="539" x2="342.50" y2="539.05" stroke="#c4c4c4" stroke-width="1"/>
<line x1="348.50" y1="539" x2="348.50" y2="538.70" stroke="#c4c4c4" stroke-width="1"/>
<line x1="353.50" y1="539" x2="353.50" y2="537.12" stroke="#c4c4c4" stroke-width="1"/>
<line x1="359.50" y1="539" x2="359.50" y2="533.00" stroke="#c4c4c4" stroke-width="1"/>
<line x1="365.50" y1="539" x2="365.50" y2="533.00" stroke="#c4c4c4" stroke-width="1"/>
<polyline points="0.00,550.00 12.50,551.25 25.00,551.90 37.50,553.75 50.00,556.25 62.50,557.25 75.00,557.00 87.50,555.60 100.00,554.00 112.50,553.10 118.75,551.50 131.00,550.00 143.75,547.50 150.00,546.00 162.50,544.40 175.00,542.90 187.50,541.25 200.00,540.60 225.00,540.60 237.50,541.90 250.00,542.50 262.50,542.90 275.00,543.50 287.50,543.10 300.00,542.40 312.50,540.40 325.00,539.75 337.50,539.40 350.00,539.00 356.00,538.10 362.50,537.50 366.00,536.90" fill="none" stroke="#ff2a2a" stroke-width="1.05" stroke-linejoin="round" stroke-dasharray="2 2" opacity="1"/>
<text x="3" y="543.1" font-family='"Liberation Sans", sans-serif' font-size="11.5" fill="#222" text-anchor="start" font-weight="normal" textLength="80.2" lengthAdjust="spacingAndGlyphs" >MACD(12,26,9)</text>
<polyline points="0.00,607.25 12.50,608.10 18.75,606.25 25.00,604.40 31.25,605.60 37.50,605.00 43.75,596.25 50.00,588.75 56.25,583.75 62.50,578.75 65.60,573.75 70.00,570.60 72.50,569.75 77.50,571.90 87.50,585.00 95.60,602.50 100.00,599.75 107.50,594.40 112.50,585.00 118.75,573.10 124.40,568.75 130.60,575.00 137.50,580.60 142.50,588.10 146.25,587.25 150.00,588.75 154.40,593.75 159.40,592.75 165.60,597.25 172.50,593.10 181.25,583.10 184.40,576.00 188.75,575.00 197.50,583.10 203.75,588.75 212.50,596.00 218.75,591.90 225.00,594.40 231.25,598.75 236.25,604.75 241.25,603.10 250.00,591.25 256.25,584.40 262.50,577.50 265.60,573.50 275.00,573.10 281.25,573.75 282.50,575.00 288.75,568.10 293.75,576.25 300.00,585.60 306.25,596.00 312.50,593.10 318.75,587.50 324.40,581.25 330.00,581.50 335.00,586.25 341.25,592.50 347.50,589.00 353.75,580.60 358.75,570.60 362.50,568.50 365.00,567.50" fill="none" stroke="#4cc2c2" stroke-width="1.1" stroke-linejoin="round" opacity="1"/>
<polyline points="0.00,601.25 3.75,604.40 7.50,607.25 12.50,608.10 18.75,606.90 25.00,605.00 31.25,605.60 37.50,605.00 43.75,601.25 50.00,594.40 56.25,588.10 62.50,581.90 68.75,576.90 72.50,573.10 77.50,571.90 87.50,580.00 95.00,592.50 100.00,597.25 106.25,598.50 112.50,593.75 118.75,583.75 125.00,574.75 131.25,572.25 137.50,574.75 143.75,581.90 150.00,586.90 156.25,590.00 162.50,593.10 168.75,594.40 175.00,592.75 181.25,586.90 187.50,580.60 193.75,577.50 200.00,579.40 206.25,584.40 212.50,590.60 218.75,592.75 225.00,593.75 231.25,596.25 237.50,600.60 243.75,601.25 250.00,598.10 256.25,590.60 262.50,583.10 268.75,576.25 275.00,573.75 281.25,573.50 287.50,572.25 293.75,573.50 300.00,576.90 306.25,586.25 312.50,592.25 318.75,591.25 325.00,587.25 331.25,583.10 337.50,583.10 343.75,586.25 350.00,588.75 356.25,585.60 362.50,578.75 365.00,572.50" fill="none" stroke="#ff2a2a" stroke-width="1.05" stroke-linejoin="round" stroke-dasharray="2 2" opacity="1"/>
<text x="6.4" y="594.8" font-family='"Liberation Sans", sans-serif' font-size="11.9" fill="#222" text-anchor="start" font-weight="normal" textLength="61.6" lengthAdjust="spacingAndGlyphs" >Stoch(9,6,3)</text>
<rect x="0" y="0" width="568" height="1" fill="#c4c4c4"/>
<rect x="0" y="1" width="568" height="1" fill="#8a8a8a"/>
<rect x="0" y="450" width="567" height="1" fill="#555"/>
<rect x="0" y="451" width="567" height="1" fill="#aaa"/>
<rect x="0" y="452" width="567" height="1" fill="#555"/>
<rect x="0" y="506" width="567" height="1" fill="#aaa"/>
<rect x="0" y="507" width="567" height="1" fill="#777"/>
<rect x="0" y="508" width="567" height="1" fill="#333"/>
<rect x="0" y="561" width="567" height="1" fill="#aaa"/>
<rect x="0" y="562" width="567" height="1" fill="#999"/>
<rect x="0" y="563" width="567" height="1" fill="#333"/>
<rect x="0" y="614" width="568" height="1" fill="#333"/>
<rect x="567" y="2" width="1" height="448" fill="#333"/>
<rect x="567" y="453" width="1" height="53" fill="#333"/>
<rect x="567" y="509" width="1" height="52" fill="#333"/>
<rect x="567" y="564" width="1" height="51" fill="#333"/>
<rect x="0" y="631" width="600" height="1" fill="#333"/>
<rect x="568" y="13.0" width="1.5" height="1" fill="#333"/>
<text x="571.5" y="15.8" font-family='"Liberation Sans", sans-serif' font-size="8" fill="#1c1c2a" text-anchor="start" font-weight="normal" textLength="24.2" lengthAdjust="spacingAndGlyphs" stroke="#1c1c2a" stroke-width="0.25" >4394.00</text>
<rect x="568" y="37.167" width="1.5" height="1" fill="#333"/>
<text x="571.5" y="39.967" font-family='"Liberation Sans", sans-serif' font-size="8" fill="#1c1c2a" text-anchor="start" font-weight="normal" textLength="24.2" lengthAdjust="spacingAndGlyphs" stroke="#1c1c2a" stroke-width="0.25" >4361.70</text>
<rect x="568" y="61.334" width="1.5" height="1" fill="#333"/>
<text x="571.5" y="64.134" font-family='"Liberation Sans", sans-serif' font-size="8" fill="#1c1c2a" text-anchor="start" font-weight="normal" textLength="24.2" lengthAdjust="spacingAndGlyphs" stroke="#1c1c2a" stroke-width="0.25" >4329.40</text>
<rect x="568" y="85.501" width="1.5" height="1" fill="#333"/>
<text x="571.5" y="88.301" font-family='"Liberation Sans", sans-serif' font-size="8" fill="#1c1c2a" text-anchor="start" font-weight="normal" textLength="24.2" lengthAdjust="spacingAndGlyphs" stroke="#1c1c2a" stroke-width="0.25" >4296.15</text>
<rect x="568" y="109.668" width="1.5" height="1" fill="#333"/>
<text x="571.5" y="112.468" font-family='"Liberation Sans", sans-serif' font-size="8" fill="#1c1c2a" text-anchor="start" font-weight="normal" textLength="24.2" lengthAdjust="spacingAndGlyphs" stroke="#1c1c2a" stroke-width="0.25" >4263.85</text>
<rect x="568" y="133.835" width="1.5" height="1" fill="#333"/>
<text x="571.5" y="136.63500000000002" font-family='"Liberation Sans", sans-serif' font-size="8" fill="#1c1c2a" text-anchor="start" font-weight="normal" textLength="24.2" lengthAdjust="spacingAndGlyphs" stroke="#1c1c2a" stroke-width="0.25" >4231.55</text>
<rect x="568" y="158.002" width="1.5" height="1" fill="#333"/>
<text x="571.5" y="160.80200000000002" font-family='"Liberation Sans", sans-serif' font-size="8" fill="#1c1c2a" text-anchor="start" font-weight="normal" textLength="24.2" lengthAdjust="spacingAndGlyphs" stroke="#1c1c2a" stroke-width="0.25" >4198.30</text>
<rect x="568" y="182.169" width="1.5" height="1" fill="#333"/>
<text x="571.5" y="184.96900000000002" font-family='"Liberation Sans", sans-serif' font-size="8" fill="#1c1c2a" text-anchor="start" font-weight="normal" textLength="24.2" lengthAdjust="spacingAndGlyphs" stroke="#1c1c2a" stroke-width="0.25" >4166.00</text>
<rect x="568" y="206.336" width="1.5" height="1" fill="#333"/>
<text x="571.5" y="209.13600000000002" font-family='"Liberation Sans", sans-serif' font-size="8" fill="#1c1c2a" text-anchor="start" font-weight="normal" textLength="24.2" lengthAdjust="spacingAndGlyphs" stroke="#1c1c2a" stroke-width="0.25" >4133.70</text>
<rect x="568" y="230.50300000000001" width="1.5" height="1" fill="#333"/>
<text x="571.5" y="233.30300000000003" font-family='"Liberation Sans", sans-serif' font-size="8" fill="#1c1c2a" text-anchor="start" font-weight="normal" textLength="24.2" lengthAdjust="spacingAndGlyphs" stroke="#1c1c2a" stroke-width="0.25" >4100.45</text>
<rect x="568" y="254.67000000000002" width="1.5" height="1" fill="#333"/>
<text x="571.5" y="257.47" font-family='"Liberation Sans", sans-serif' font-size="8" fill="#1c1c2a" text-anchor="start" font-weight="normal" textLength="24.2" lengthAdjust="spacingAndGlyphs" stroke="#1c1c2a" stroke-width="0.25" >4068.15</text>
<rect x="568" y="278.837" width="1.5" height="1" fill="#333"/>
<text x="571.5" y="281.637" font-family='"Liberation Sans", sans-serif' font-size="8" fill="#1c1c2a" text-anchor="start" font-weight="normal" textLength="24.2" lengthAdjust="spacingAndGlyphs" stroke="#1c1c2a" stroke-width="0.25" >4035.85</text>
<rect x="568" y="303.004" width="1.5" height="1" fill="#333"/>
<text x="571.5" y="305.80400000000003" font-family='"Liberation Sans", sans-serif' font-size="8" fill="#1c1c2a" text-anchor="start" font-weight="normal" textLength="24.2" lengthAdjust="spacingAndGlyphs" stroke="#1c1c2a" stroke-width="0.25" >4002.60</text>
<rect x="568" y="327.17100000000005" width="1.5" height="1" fill="#333"/>
<text x="571.5" y="329.97100000000006" font-family='"Liberation Sans", sans-serif' font-size="8" fill="#1c1c2a" text-anchor="start" font-weight="normal" textLength="24.2" lengthAdjust="spacingAndGlyphs" stroke="#1c1c2a" stroke-width="0.25" >3970.30</text>
<rect x="568" y="351.338" width="1.5" height="1" fill="#333"/>
<text x="571.5" y="354.13800000000003" font-family='"Liberation Sans", sans-serif' font-size="8" fill="#1c1c2a" text-anchor="start" font-weight="normal" textLength="24.2" lengthAdjust="spacingAndGlyphs" stroke="#1c1c2a" stroke-width="0.25" >3938.00</text>
<rect x="568" y="375.505" width="1.5" height="1" fill="#333"/>
<text x="571.5" y="378.305" font-family='"Liberation Sans", sans-serif' font-size="8" fill="#1c1c2a" text-anchor="start" font-weight="normal" textLength="24.2" lengthAdjust="spacingAndGlyphs" stroke="#1c1c2a" stroke-width="0.25" >3905.70</text>
<rect x="568" y="399.672" width="1.5" height="1" fill="#333"/>
<text x="571.5" y="402.47200000000004" font-family='"Liberation Sans", sans-serif' font-size="8" fill="#1c1c2a" text-anchor="start" font-weight="normal" textLength="24.2" lengthAdjust="spacingAndGlyphs" stroke="#1c1c2a" stroke-width="0.25" >3872.45</text>
<rect x="568" y="423.83900000000006" width="1.5" height="1" fill="#333"/>
<text x="571.5" y="426.63900000000007" font-family='"Liberation Sans", sans-serif' font-size="8" fill="#1c1c2a" text-anchor="start" font-weight="normal" textLength="24.2" lengthAdjust="spacingAndGlyphs" stroke="#1c1c2a" stroke-width="0.25" >3840.15</text>
<rect x="568" y="448.00600000000003" width="1.5" height="1" fill="#333"/>
<text x="571.5" y="450.80600000000004" font-family='"Liberation Sans", sans-serif' font-size="8" fill="#1c1c2a" text-anchor="start" font-weight="normal" textLength="24.2" lengthAdjust="spacingAndGlyphs" stroke="#1c1c2a" stroke-width="0.25" >3807.85</text>
<text x="570" y="459.4" font-family='"Liberation Sans", sans-serif' font-size="8" fill="#1c1c2a" text-anchor="start" font-weight="normal" textLength="10.5" lengthAdjust="spacingAndGlyphs" stroke="#1c1c2a" stroke-width="0.25" >100</text>
<text x="570" y="471.4" font-family='"Liberation Sans", sans-serif' font-size="8" fill="#1c1c2a" text-anchor="start" font-weight="normal" textLength="7" lengthAdjust="spacingAndGlyphs" stroke="#1c1c2a" stroke-width="0.25" >70</text>
<text x="570" y="493.4" font-family='"Liberation Sans", sans-serif' font-size="8" fill="#1c1c2a" text-anchor="start" font-weight="normal" textLength="7" lengthAdjust="spacingAndGlyphs" stroke="#1c1c2a" stroke-width="0.25" >30</text>
<text x="570" y="504.4" font-family='"Liberation Sans", sans-serif' font-size="8" fill="#1c1c2a" text-anchor="start" font-weight="normal" textLength="3.5" lengthAdjust="spacingAndGlyphs" stroke="#1c1c2a" stroke-width="0.25" >0</text>
<text x="570" y="516.1" font-family='"Liberation Sans", sans-serif' font-size="8" fill="#1c1c2a" text-anchor="start" font-weight="normal" textLength="20" lengthAdjust="spacingAndGlyphs" stroke="#1c1c2a" stroke-width="0.25" >78.115</text>
<text x="570" y="541.4" font-family='"Liberation Sans", sans-serif' font-size="8" fill="#1c1c2a" text-anchor="start" font-weight="normal" textLength="13.2" lengthAdjust="spacingAndGlyphs" stroke="#1c1c2a" stroke-width="0.25" >0.00</text>
<text x="570" y="559.4" font-family='"Liberation Sans", sans-serif' font-size="8" fill="#1c1c2a" text-anchor="start" font-weight="normal" textLength="19.5" lengthAdjust="spacingAndGlyphs" stroke="#1c1c2a" stroke-width="0.25" >-58.68</text>
<text x="570" y="571.1" font-family='"Liberation Sans", sans-serif' font-size="8" fill="#1c1c2a" text-anchor="start" font-weight="normal" textLength="10.5" lengthAdjust="spacingAndGlyphs" stroke="#1c1c2a" stroke-width="0.25" >100</text>
<text x="570" y="576.8" font-family='"Liberation Sans", sans-serif' font-size="8" fill="#1c1c2a" text-anchor="start" font-weight="normal" textLength="7" lengthAdjust="spacingAndGlyphs" stroke="#1c1c2a" stroke-width="0.25" >80</text>
<text x="570" y="606.4" font-family='"Liberation Sans", sans-serif' font-size="8" fill="#1c1c2a" text-anchor="start" font-weight="normal" textLength="7" lengthAdjust="spacingAndGlyphs" stroke="#1c1c2a" stroke-width="0.25" >20</text>
<text x="570" y="612.4" font-family='"Liberation Sans", sans-serif' font-size="8" fill="#1c1c2a" text-anchor="start" font-weight="normal" textLength="3.5" lengthAdjust="spacingAndGlyphs" stroke="#1c1c2a" stroke-width="0.25" >0</text>
<rect x="568.7" y="195.7" width="30.2" height="8" fill="#008000"/>
<text x="571.7" y="202.7" font-family='"Liberation Sans", sans-serif' font-size="8" fill="#ffffff" text-anchor="start" font-weight="normal" textLength="23.6" lengthAdjust="spacingAndGlyphs" stroke="#ffffff" stroke-width="0.25" >4142.12</text>
<rect x="568.7" y="208.8" width="30.2" height="8" fill="#008000"/>
<text x="571.7" y="215.8" font-family='"Liberation Sans", sans-serif' font-size="8" fill="#ffffff" text-anchor="start" font-weight="normal" textLength="23.6" lengthAdjust="spacingAndGlyphs" stroke="#ffffff" stroke-width="0.25" >4124.09</text>
<rect x="568.7" y="222.7" width="30.2" height="8" fill="#008000"/>
<text x="571.7" y="229.7" font-family='"Liberation Sans", sans-serif' font-size="8" fill="#ffffff" text-anchor="start" font-weight="normal" textLength="23.6" lengthAdjust="spacingAndGlyphs" stroke="#ffffff" stroke-width="0.25" >4106.05</text>
<rect x="568.7" y="244.8" width="29.8" height="7.2" fill="#000"/>
<text x="571.7" y="251.5" font-family='"Liberation Sans", sans-serif' font-size="8" fill="#ffffff" text-anchor="start" font-weight="normal" textLength="23.6" lengthAdjust="spacingAndGlyphs" stroke="#ffffff" stroke-width="0.25" >4077.44</text>
<rect x="568.7" y="257.7" width="30.2" height="8" fill="#ff0000"/>
<text x="571.7" y="264.7" font-family='"Liberation Sans", sans-serif' font-size="8" fill="#ffffff" text-anchor="start" font-weight="normal" textLength="23.6" lengthAdjust="spacingAndGlyphs" stroke="#ffffff" stroke-width="0.25" >4057.95</text>
<rect x="568.7" y="271.4" width="30.2" height="8" fill="#ff0000"/>
<text x="571.7" y="278.4" font-family='"Liberation Sans", sans-serif' font-size="8" fill="#ffffff" text-anchor="start" font-weight="normal" textLength="23.6" lengthAdjust="spacingAndGlyphs" stroke="#ffffff" stroke-width="0.25" >4039.91</text>
<rect x="568.7" y="284.7" width="30.2" height="8" fill="#ff0000"/>
<text x="571.7" y="291.7" font-family='"Liberation Sans", sans-serif' font-size="8" fill="#ffffff" text-anchor="start" font-weight="normal" textLength="23.6" lengthAdjust="spacingAndGlyphs" stroke="#ffffff" stroke-width="0.25" >4021.88</text>
<rect x="24.9" y="615" width="1" height="3" fill="#333"/>
<rect x="71.8" y="615" width="1" height="3" fill="#333"/>
<rect x="118.8" y="615" width="1" height="3" fill="#333"/>
<rect x="165.7" y="615" width="1" height="3" fill="#333"/>
<rect x="212.6" y="615" width="1" height="3" fill="#333"/>
<rect x="259.6" y="615" width="1" height="3" fill="#333"/>
<rect x="306.5" y="615" width="1" height="3" fill="#333"/>
<rect x="353.4" y="615" width="1" height="3" fill="#333"/>
<text x="0" y="624" font-family='"Liberation Sans", sans-serif' font-size="7.4" fill="#1c1c2a" text-anchor="start" font-weight="normal" textLength="16.9" lengthAdjust="spacingAndGlyphs" stroke="#1c1c2a" stroke-width="0.25" >20:00</text>
<text x="24.4" y="624" font-family='"Liberation Sans", sans-serif' font-size="7.4" fill="#1c1c2a" text-anchor="start" font-weight="normal" textLength="38.5" lengthAdjust="spacingAndGlyphs" stroke="#1c1c2a" stroke-width="0.25" >28 Oct 00:00</text>
<text x="71.3" y="624" font-family='"Liberation Sans", sans-serif' font-size="7.4" fill="#1c1c2a" text-anchor="start" font-weight="normal" textLength="38.5" lengthAdjust="spacingAndGlyphs" stroke="#1c1c2a" stroke-width="0.25" >29 Oct 08:00</text>
<text x="118.3" y="624" font-family='"Liberation Sans", sans-serif' font-size="7.4" fill="#1c1c2a" text-anchor="start" font-weight="normal" textLength="38.5" lengthAdjust="spacingAndGlyphs" stroke="#1c1c2a" stroke-width="0.25" >30 Oct 16:00</text>
<text x="165.2" y="624" font-family='"Liberation Sans", sans-serif' font-size="7.4" fill="#1c1c2a" text-anchor="start" font-weight="normal" textLength="37.8" lengthAdjust="spacingAndGlyphs" stroke="#1c1c2a" stroke-width="0.25" >2 Nov 23:01</text>
<text x="212.1" y="624" font-family='"Liberation Sans", sans-serif' font-size="7.4" fill="#1c1c2a" text-anchor="start" font-weight="normal" textLength="37.8" lengthAdjust="spacingAndGlyphs" stroke="#1c1c2a" stroke-width="0.25" >4 Nov 04:00</text>
<text x="259.1" y="624" font-family='"Liberation Sans", sans-serif' font-size="7.4" fill="#1c1c2a" text-anchor="start" font-weight="normal" textLength="37.8" lengthAdjust="spacingAndGlyphs" stroke="#1c1c2a" stroke-width="0.25" >5 Nov 12:00</text>
<text x="306" y="624" font-family='"Liberation Sans", sans-serif' font-size="7.4" fill="#1c1c2a" text-anchor="start" font-weight="normal" textLength="37.8" lengthAdjust="spacingAndGlyphs" stroke="#1c1c2a" stroke-width="0.25" >6 Nov 20:00</text>
<text x="352.9" y="624" font-family='"Liberation Sans", sans-serif' font-size="7.4" fill="#1c1c2a" text-anchor="start" font-weight="normal" textLength="38.5" lengthAdjust="spacingAndGlyphs" stroke="#1c1c2a" stroke-width="0.25" >10 Nov 00:00</text>
</svg>
</body></html>
